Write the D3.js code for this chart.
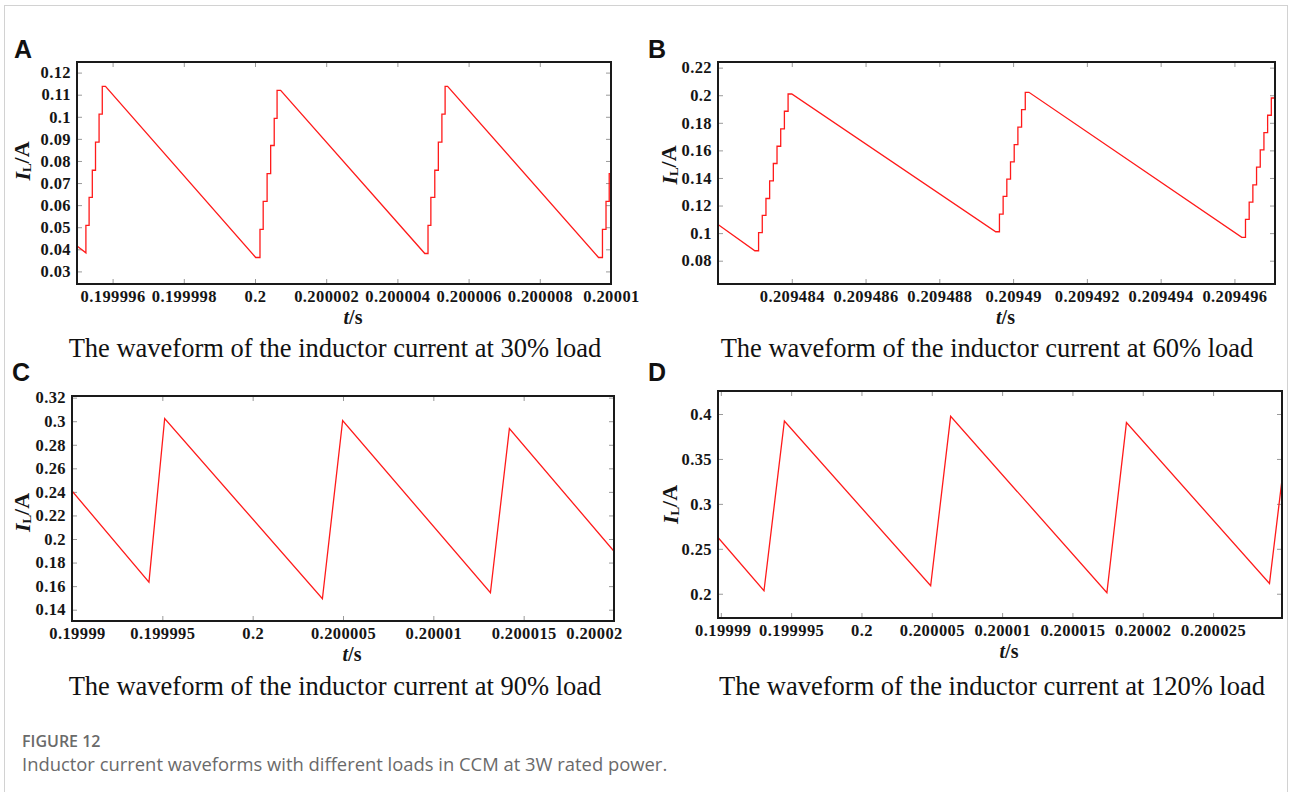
<!DOCTYPE html>
<html>
<head>
<meta charset="utf-8">
<script src="https://cdn.jsdelivr.net/npm/d3@7"></script>
<style>
  body { margin: 0; background: #fff; }
  svg { display: block; }
  .tick text { font-family: "Liberation Serif", "Times New Roman", serif; font-weight: bold; font-size: 16.5px; letter-spacing: 0.4px; fill: #151515; }
  .tick line { stroke: #9a9a9a; stroke-width: 1; }
</style>
</head>
<body>
<svg id="fig" width="1290" height="792"></svg>
<script>
// ---------- Panel A: 30 % load ----------
const subtitleA = "The waveform of the inductor current at 30% load";
const timeA = [0.199995, 0.19999525, 0.19999525, 0.19999534, 0.19999534, 0.19999543, 0.19999543, 0.19999552, 0.19999552, 0.19999562, 0.19999562, 0.19999571, 0.19999571, 0.1999958,
  0.20000002, 0.20000014, 0.20000014, 0.20000023, 0.20000023, 0.20000034, 0.20000034, 0.20000044, 0.20000044, 0.20000054, 0.20000054, 0.20000062, 0.20000062, 0.20000072,
  0.20000477, 0.20000486, 0.20000486, 0.20000494, 0.20000494, 0.20000505, 0.20000505, 0.20000515, 0.20000515, 0.20000525, 0.20000525, 0.20000534, 0.20000534, 0.20000541,
  0.20000965, 0.20000976, 0.20000976, 0.20000986, 0.20000986, 0.20000995, 0.20000995, 0.20001];
const currentA = [0.0415, 0.0384, 0.0508, 0.0508, 0.0635, 0.0635, 0.0758, 0.0758, 0.0885, 0.0885, 0.1012, 0.1012, 0.1138, 0.1138,
  0.0363, 0.0363, 0.0490, 0.0490, 0.0617, 0.0617, 0.0743, 0.0743, 0.0870, 0.0870, 0.0993, 0.0993, 0.1120, 0.1120,
  0.0381, 0.0381, 0.0508, 0.0508, 0.0635, 0.0635, 0.0758, 0.0758, 0.0885, 0.0885, 0.1012, 0.1012, 0.1138, 0.1138,
  0.0363, 0.0363, 0.0490, 0.0490, 0.0617, 0.0617, 0.0743, 0.0743];
const xDomainA = [0.199995, 0.20001];
const yDomainA = [0.0243, 0.1248];
const xTicksA = [0.199996, 0.199998, 0.2, 0.200002, 0.200004, 0.200006, 0.200008, 0.20001];
const xTickLabelsA = ["0.199996", "0.199998", "0.2", "0.200002", "0.200004", "0.200006", "0.200008", "0.20001"];
const yTicksA = [0.03, 0.04, 0.05, 0.06, 0.07, 0.08, 0.09, 0.1, 0.11, 0.12];
const yTickLabelsA = ["0.03", "0.04", "0.05", "0.06", "0.07", "0.08", "0.09", "0.1", "0.11", "0.12"];

// ---------- Panel B: 60 % load ----------
const subtitleB = "The waveform of the inductor current at 60% load";
const timeB = [0.209482, 0.209483, 0.2094831, 0.2094831, 0.2094832, 0.2094832, 0.2094833, 0.2094833, 0.2094834, 0.2094834, 0.2094835, 0.2094835, 0.2094836, 0.2094836, 0.2094837, 0.2094837, 0.2094838, 0.2094838, 0.2094839, 0.2094839, 0.209484,
  0.20948953, 0.20948963, 0.20948963, 0.20948973, 0.20948973, 0.20948983, 0.20948983, 0.20948993, 0.20948993, 0.20949003, 0.20949003, 0.20949013, 0.20949013, 0.20949023, 0.20949023, 0.20949033, 0.20949033, 0.20949043,
  0.2094962, 0.2094963, 0.2094963, 0.2094964, 0.2094964, 0.2094965, 0.2094965, 0.2094966, 0.2094966, 0.2094967, 0.2094967, 0.2094968, 0.2094968, 0.2094969, 0.2094969, 0.209497, 0.209497, 0.2094971, 0.2094971];
const currentB = [0.1063, 0.0872, 0.0872, 0.1003, 0.1003, 0.1128, 0.1128, 0.1251, 0.1251, 0.1379, 0.1379, 0.1505, 0.1505, 0.1630, 0.1630, 0.1756, 0.1756, 0.1884, 0.1884, 0.2009, 0.2009,
  0.1010, 0.1010, 0.1138, 0.1138, 0.1266, 0.1266, 0.1391, 0.1391, 0.1517, 0.1517, 0.1642, 0.1642, 0.1768, 0.1768, 0.1896, 0.1896, 0.2021, 0.2021,
  0.0969, 0.0969, 0.1099, 0.1099, 0.1225, 0.1225, 0.1350, 0.1350, 0.1478, 0.1478, 0.1604, 0.1604, 0.1729, 0.1729, 0.1855, 0.1855, 0.1980, 0.1980, 0.2108];
const xDomainB = [0.209482, 0.2094971];
const yDomainB = [0.0631, 0.2241];
const xTicksB = [0.209484, 0.209486, 0.209488, 0.20949, 0.209492, 0.209494, 0.209496];
const xTickLabelsB = ["0.209484", "0.209486", "0.209488", "0.20949", "0.209492", "0.209494", "0.209496"];
const yTicksB = [0.08, 0.1, 0.12, 0.14, 0.16, 0.18, 0.2, 0.22];
const yTickLabelsB = ["0.08", "0.1", "0.12", "0.14", "0.16", "0.18", "0.2", "0.22"];

// ---------- Panel C: 90 % load ----------
const subtitleC = "The waveform of the inductor current at 90% load";
const timeC = [0.19999, 0.19999426, 0.19999513, 0.20000386, 0.20000498, 0.20001316, 0.20001421, 0.20002];
const currentC = [0.2408, 0.1634, 0.3023, 0.1493, 0.3006, 0.1544, 0.2938, 0.1896];
const xDomainC = [0.19999, 0.20002];
const yDomainC = [0.1304, 0.3214];
const xTicksC = [0.19999, 0.199995, 0.2, 0.200005, 0.20001, 0.200015, 0.20002];
const xTickLabelsC = ["0.19999", "0.199995", "0.2", "0.200005", "0.20001", "0.200015", "0.20002"];
const yTicksC = [0.14, 0.16, 0.18, 0.2, 0.22, 0.24, 0.26, 0.28, 0.3, 0.32];
const yTickLabelsC = ["0.14", "0.16", "0.18", "0.2", "0.22", "0.24", "0.26", "0.28", "0.3", "0.32"];

// ---------- Panel D: 120 % load ----------
const subtitleD = "The waveform of the inductor current at 120% load";
const timeD = [0.1999898, 0.19999307, 0.19999452, 0.20000492, 0.20000634, 0.20001745, 0.20001884, 0.20002901, 0.2000299];
const currentD = [0.2626, 0.2033, 0.3922, 0.2089, 0.3974, 0.2011, 0.3904, 0.2115, 0.3267];
const xDomainD = [0.1999898, 0.2000299];
const yDomainD = [0.173, 0.4256];
const xTicksD = [0.19999, 0.199995, 0.2, 0.200005, 0.20001, 0.200015, 0.20002, 0.200025];
const xTickLabelsD = ["0.19999", "0.199995", "0.2", "0.200005", "0.20001", "0.200015", "0.20002", "0.200025"];
const yTicksD = [0.2, 0.25, 0.3, 0.35, 0.4];
const yTickLabelsD = ["0.2", "0.25", "0.3", "0.35", "0.4"];

const captionTitle = "FIGURE 12";
const captionText = "Inductor current waveforms with different loads in CCM at 3W rated power.";

// Plot frames (pixel boxes) and text anchors for each panel
const layout = {
  A: { left: 77, right: 611, top: 62, bottom: 284, letterX: 14, letterY: 58, subX: 335, subY: 357,
       yTitleX: 30, yTitleShift: -12, firstLabelShift: 0, lastLabelShift: 0 },
  B: { left: 718, right: 1275, top: 62, bottom: 284, letterX: 648, letterY: 58, subX: 987, subY: 357,
       yTitleX: 677, yTitleShift: -8, firstLabelShift: 0, lastLabelShift: 0 },
  C: { left: 72, right: 614, top: 396, bottom: 621, letterX: 12, letterY: 381, subX: 335, subY: 695,
       yTitleX: 30, yTitleShift: 4, firstLabelShift: 5, lastLabelShift: -20 },
  D: { left: 718, right: 1282, top: 391, bottom: 618, letterX: 648, letterY: 381, subX: 992, subY: 695,
       yTitleX: 678, yTitleShift: 0, firstLabelShift: 2, lastLabelShift: 0 }
};

const panels = [
  { id: "A", time: timeA, current: currentA, xDomain: xDomainA, yDomain: yDomainA, xTicks: xTicksA, xLabels: xTickLabelsA, yTicks: yTicksA, yLabels: yTickLabelsA, subtitle: subtitleA },
  { id: "B", time: timeB, current: currentB, xDomain: xDomainB, yDomain: yDomainB, xTicks: xTicksB, xLabels: xTickLabelsB, yTicks: yTicksB, yLabels: yTickLabelsB, subtitle: subtitleB },
  { id: "C", time: timeC, current: currentC, xDomain: xDomainC, yDomain: yDomainC, xTicks: xTicksC, xLabels: xTickLabelsC, yTicks: yTicksC, yLabels: yTickLabelsC, subtitle: subtitleC },
  { id: "D", time: timeD, current: currentD, xDomain: xDomainD, yDomain: yDomainD, xTicks: xTicksD, xLabels: xTickLabelsD, yTicks: yTicksD, yLabels: yTickLabelsD, subtitle: subtitleD }
];

const svg = d3.select("#fig");
const serif = '"Liberation Serif", "Times New Roman", serif';
const sans = '"Liberation Sans", Arial, sans-serif';

// outer figure border
svg.append("rect")
  .attr("x", 4.5).attr("y", 5.5).attr("width", 1283).attr("height", 820)
  .attr("fill", "none").attr("stroke", "#d2d2d2").attr("stroke-width", 1);

panels.forEach(p => {
  const L = layout[p.id];
  const w = L.right - L.left, h = L.bottom - L.top;
  const x = d3.scaleLinear().domain(p.xDomain).range([0, w]);
  const y = d3.scaleLinear().domain(p.yDomain).range([h, 0]);
  const g = svg.append("g").attr("transform", `translate(${L.left},${L.top})`);

  const clipId = "clip" + p.id;
  g.append("clipPath").attr("id", clipId).append("rect").attr("width", w).attr("height", h);

  // inward ticks on all four sides
  const xLab = d => p.xLabels[p.xTicks.indexOf(d)];
  const yLab = d => p.yLabels[p.yTicks.indexOf(d)];
  const bottomAxis = g.append("g").attr("transform", `translate(0,${h})`)
    .call(d3.axisBottom(x).tickValues(p.xTicks).tickFormat(xLab).tickSize(-5).tickPadding(6))
    .call(a => a.select(".domain").remove());
  // nudge the outermost tick labels
  const labels = bottomAxis.selectAll(".tick text");
  const n = labels.size();
  labels.attr("dx", (d, i) => i === 0 ? L.firstLabelShift : (i === n - 1 ? L.lastLabelShift : 0));

  g.append("g")
    .call(d3.axisTop(x).tickValues(p.xTicks).tickFormat("").tickSize(-5))
    .call(a => a.select(".domain").remove());
  g.append("g")
    .call(d3.axisLeft(y).tickValues(p.yTicks).tickFormat(yLab).tickSize(-5).tickPadding(6))
    .call(a => a.select(".domain").remove());
  g.append("g").attr("transform", `translate(${w},0)`)
    .call(d3.axisRight(y).tickValues(p.yTicks).tickFormat("").tickSize(-5))
    .call(a => a.select(".domain").remove());

  // waveform
  const line = d3.line().x(d => x(d[0])).y(d => y(d[1]));
  g.append("path")
    .datum(d3.zip(p.time, p.current))
    .attr("clip-path", `url(#${clipId})`)
    .attr("fill", "none").attr("stroke", "#ff1a1a").attr("stroke-width", 1.3)
    .attr("stroke-linejoin", "miter")
    .attr("d", line);

  // frame
  g.append("rect").attr("width", w).attr("height", h)
    .attr("fill", "none").attr("stroke", "#1a1a1a").attr("stroke-width", 2);

  // x-axis title  t/s
  const xt = g.append("text")
    .attr("x", w / 2 + 9).attr("y", h + 39.5)
    .attr("text-anchor", "middle")
    .attr("font-family", serif).attr("font-weight", "bold").attr("font-size", 20).attr("fill", "#151515");
  xt.append("tspan").attr("font-style", "italic").text("t");
  xt.append("tspan").text("/s");

  // y-axis title  I_L/A
  const yt = svg.append("text")
    .attr("transform", `translate(${L.yTitleX},${(L.top + L.bottom) / 2 + L.yTitleShift}) rotate(-90)`)
    .attr("text-anchor", "middle")
    .attr("font-family", serif).attr("font-weight", "bold").attr("font-size", 22).attr("fill", "#151515");
  yt.append("tspan").attr("font-style", "italic").text("I");
  yt.append("tspan").attr("font-size", 13).attr("dy", "0.1em").text("L");
  yt.append("tspan").attr("dy", "-0.1em").text("/A");

  // panel letter
  svg.append("text").attr("x", L.letterX).attr("y", L.letterY)
    .attr("font-family", sans).attr("font-weight", "bold").attr("font-size", 25).attr("fill", "#111")
    .text(p.id);

  // subtitle
  svg.append("text").attr("x", L.subX).attr("y", L.subY)
    .attr("text-anchor", "middle")
    .attr("font-family", serif).attr("font-size", 26.5).attr("fill", "#111")
    .text(p.subtitle);
});

// caption
svg.append("text").attr("x", 22).attr("y", 747)
  .attr("font-family", '"Open Sans", sans-serif').attr("font-weight", 600).attr("font-size", 16).attr("fill", "#6a6a6a")
  .text(captionTitle);
svg.append("text").attr("x", 22).attr("y", 771)
  .attr("font-family", '"Open Sans", sans-serif').attr("font-size", 18.4).attr("fill", "#6a6a6a")
  .text(captionText);
</script>
</body>
</html>
